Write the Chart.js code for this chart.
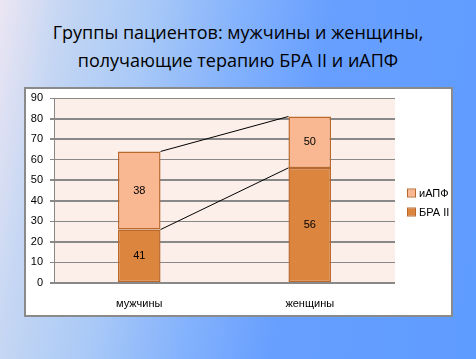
<!DOCTYPE html>
<html><head><meta charset="utf-8">
<script src="https://cdn.jsdelivr.net/npm/chart.js@4/dist/chart.umd.min.js"></script>
<style>
html,body{margin:0;padding:0;}
body{width:476px;height:359px;position:relative;overflow:hidden;
 background:linear-gradient(100deg,#ece6f3 0%,#c4d6f3 12%,#a9c9f7 28%,#84b2fc 45%,#679fff 62%,#5e9cff 100%);}
#title{position:absolute;left:0;top:18px;width:476px;text-align:center;font-family:"Open Sans",sans-serif;font-size:18px;line-height:28px;color:#000;}
#box{position:absolute;left:24px;top:87px;width:425px;height:226px;background:#fff;border:2px solid #8a8a8a;}
#c{display:block;}
</style></head>
<body>
<div id="title">Группы пациентов: мужчины и женщины,<br>получающие терапию БРА II и иАПФ</div>
<div id="box"><canvas id="c" width="425" height="226"></canvas></div>
<script>
const categories = ["мужчины", "женщины"];
const seriesNames = ["БРА II", "иАПФ"];
const braValues = [26, 56];
const apfValues = [38, 25];
const braLabels = ["41", "56"];
const apfLabels = ["38", "50"];
const yTicks = [0, 10, 20, 30, 40, 50, 60, 70, 80, 90];

const thickTicks = [0, 20, 40, 50, 70, 80];

const bgPlugin = {
  id: 'bg',
  beforeDraw(chart) {
    const a = chart.chartArea, ctx = chart.ctx;
    ctx.save(); ctx.fillStyle = '#fcefea';
    ctx.fillRect(a.left, a.top, a.right - a.left, a.bottom - a.top);
    ctx.restore();
  }
};

const extrasPlugin = {
  id: 'extras',
  afterDatasetsDraw(chart) {
    const ctx = chart.ctx;
    ctx.save();
    // series lines
    ctx.strokeStyle = '#000'; ctx.lineWidth = 1;
    chart.data.datasets.forEach((ds, i) => {
      const m = chart.getDatasetMeta(i).data;
      ctx.beginPath();
      ctx.moveTo(m[0].x + m[0].width / 2, m[0].y);
      ctx.lineTo(m[1].x - m[1].width / 2, m[1].y);
      ctx.stroke();
    });
    // data labels
    ctx.font = '11px "Liberation Sans", sans-serif';
    ctx.fillStyle = '#000'; ctx.textAlign = 'center'; ctx.textBaseline = 'middle';
    const lbls = [braLabels, apfLabels];
    chart.data.datasets.forEach((ds, i) => {
      chart.getDatasetMeta(i).data.forEach((el, j) => {
        ctx.fillText(lbls[i][j], el.x, (el.y + el.base) / 2);
      });
    });
    // legend
    const items = [[1, 104], [0, 123]];
    ctx.textAlign = 'left';
    items.forEach(([i, cy]) => {
      const ds = chart.data.datasets[i];
      ctx.fillStyle = ds.backgroundColor;
      ctx.fillRect(382, cy - 3.5, 7, 7);
      ctx.strokeStyle = '#b8692e'; ctx.lineWidth = 1;
      ctx.strokeRect(381.5, cy - 4, 8, 8);
      ctx.fillStyle = '#000';
      ctx.fillText(ds.label, 393, cy + 0.5);
    });
    ctx.restore();
  }
};

new Chart(document.getElementById('c'), {
  type: 'bar',
  data: {
    labels: categories,
    datasets: [
      { label: seriesNames[0], data: braValues, backgroundColor: '#db853e', borderColor: '#b8692e', borderWidth: 1.5, borderSkipped: false },
      { label: seriesNames[1], data: apfValues, backgroundColor: '#f9b792', borderColor: '#b8692e', borderWidth: 1.5, borderSkipped: false }
    ]
  },
  options: {
    responsive: false, animation: false,
    layout: { padding: { top: 9, right: 56, left: 0, bottom: 0 } },
    plugins: { legend: { display: false }, tooltip: { enabled: false }, title: { display: false } },
    datasets: { bar: { categoryPercentage: 1, barPercentage: 0.25 } },
    scales: {
      x: {
        stacked: true,
        grid: { display: false, drawTicks: false },
        border: { display: false },
        ticks: { color: '#000', padding: 14, font: { family: '"Liberation Sans", sans-serif', size: 11 } },
        afterFit(s) { s.height = 32; s.paddingLeft = 0; s.paddingRight = 0; }
      },
      y: {
        stacked: true, min: 0, max: 90,
        afterBuildTicks(s) { s.ticks = yTicks.map(v => ({ value: v })); },
        grid: {
          color: '#888',
          lineWidth: c => thickTicks.includes(c.tick && c.tick.value) ? 2 : 1,
          tickLength: 4
        },
        border: { display: true, color: '#888', width: 1 },
        ticks: { color: '#000', padding: 7, font: { family: '"Liberation Sans", sans-serif', size: 11 } },
        afterFit(s) { s.width = 28; s.paddingTop = 0; s.paddingBottom = 0; }
      }
    }
  },
  plugins: [bgPlugin, extrasPlugin]
});
</script>
</body></html>
